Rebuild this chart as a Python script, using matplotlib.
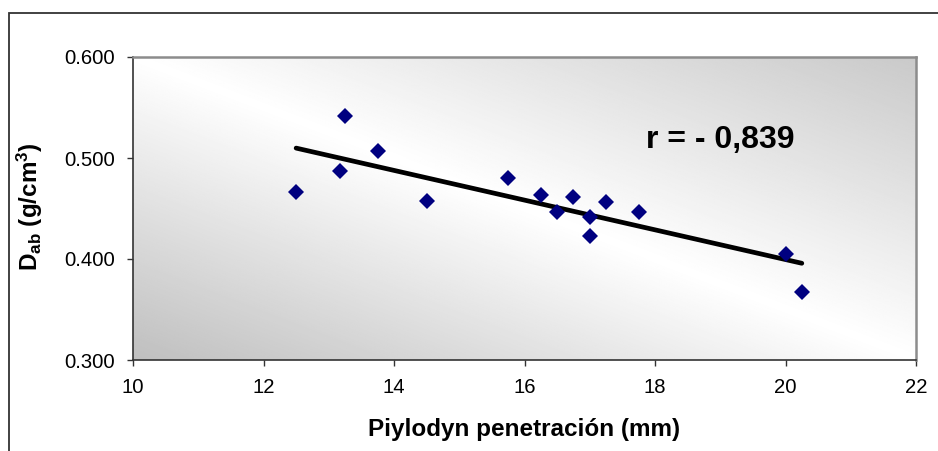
#Scatter of wood density against Pilodyn penetration with linear trendline

import matplotlib.pyplot as plt
import matplotlib.patches as patches
import numpy as np

plt.rcParams['font.family'] = ['Liberation Sans', 'DejaVu Sans']
plt.rcParams['mathtext.fontset'] = 'custom'
plt.rcParams['mathtext.rm'] = 'Liberation Sans'
plt.rcParams['mathtext.bf'] = 'Liberation Sans:bold'
plt.rcParams['mathtext.it'] = 'Liberation Sans:italic'

# penetration (mm) and basic density (g/cm3)
penetration = [12.5, 13.17, 13.25, 13.75, 14.5, 15.75, 16.25, 16.5,
               16.75, 17.0, 17.0, 17.25, 17.75, 20.0, 20.25]
density = [0.466, 0.487, 0.542, 0.507, 0.457, 0.480, 0.463, 0.447,
           0.461, 0.442, 0.423, 0.456, 0.447, 0.405, 0.367]

x_ticks = [10, 12, 14, 16, 18, 20, 22]
y_ticks = [0.300, 0.400, 0.500, 0.600]
r_label = "r = - 0,839"

if __name__ == "__main__":

    fig = plt.figure(figsize=(9.38, 4.51), dpi=100)
    fig.patch.set_facecolor("white")

    # outer frame of the chart
    frame = patches.Rectangle((8.5 / 938, -0.2), 1.2, 1 - 12.5 / 451 + 0.2,
                              transform=fig.transFigure, fill=False,
                              edgecolor="#333333", linewidth=1.3, clip_on=False)
    fig.patches.append(frame)

    ax = fig.add_axes([133 / 938, 1 - 360 / 451, 783 / 938, 303 / 451])

    # diagonal gray-white-gray background
    n = 300
    xf, yf = np.meshgrid(np.linspace(0, 1, n), np.linspace(0, 1, n))
    u = (xf + yf) / 2
    shade = np.where(u < 0.5, 0.75 + (1 - 0.75) * (u / 0.5),
                     1 - (1 - 0.79) * ((u - 0.5) / 0.5))
    ax.imshow(shade, cmap="gray", vmin=0, vmax=1, origin="lower",
              extent=(0, 1, 0, 1), transform=ax.transAxes, aspect="auto",
              interpolation="bilinear", zorder=0)

    # least squares trendline over the data range
    slope, intercept = np.polyfit(penetration, density, 1)
    xl = np.array([min(penetration), max(penetration)])
    ax.plot(xl, slope * xl + intercept, color="black", linewidth=3.4,
            solid_capstyle="round", zorder=2)

    ax.plot(penetration, density, linestyle="none", marker="D",
            markersize=7.8, color="#000080", markeredgewidth=0, zorder=3)

    ax.text(19.0, 0.518, r_label, fontsize=23, fontweight="bold",
            ha="center", va="center")

    ax.set_xlim(10, 22)
    ax.set_ylim(0.3, 0.6)
    ax.set_xticks(x_ticks)
    ax.set_yticks(y_ticks)
    ax.set_yticklabels(["%.3f" % v for v in y_ticks])
    ax.tick_params(direction="out", length=4.5, width=1, color="#333333",
                   labelsize=14.6, pad=8.5)

    for side in ["left", "bottom"]:
        ax.spines[side].set_color("#333333")
        ax.spines[side].set_linewidth(1.2)
    for side in ["top", "right"]:
        ax.spines[side].set_color("#8c8c8c")
        ax.spines[side].set_linewidth(1.8)

    ax.set_xlabel("Piylodyn penetración (mm)", fontsize=17.5, fontweight="bold")
    ax.set_ylabel(r"$\mathbf{D_{ab}\ (g/cm^{3})}$", fontsize=17.5)
    ax.xaxis.set_label_coords(0.499, -0.192)
    ax.yaxis.set_label_coords(-0.113, 0.505)

    fig.savefig("out.png", dpi=100)
